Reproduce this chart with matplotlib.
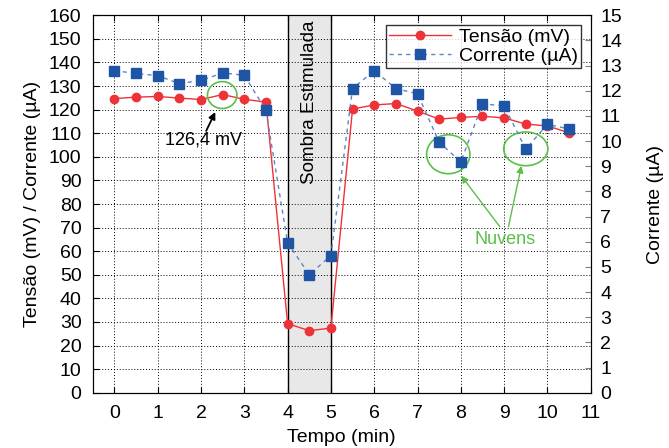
import numpy as np
import matplotlib.pyplot as plt
from matplotlib.patches import Ellipse

plt.rcParams['font.family'] = ['Liberation Sans', 'DejaVu Sans']

# time (min)
tempo = [0, 0.5, 1, 1.5, 2, 2.5, 3, 3.5, 4, 4.5, 5, 5.5, 6, 6.5, 7, 7.5,
         8, 8.5, 9, 9.5, 10, 10.5]
# voltage (mV)
tensao = [124.7, 125.3, 125.6, 124.9, 124.3, 126.4, 124.4, 123.2, 29.3, 26.3,
          27.4, 120.3, 122.0, 122.6, 119.4, 116.0, 116.7, 117.2, 116.5, 113.9,
          113.1, 110.2]
# current (uA)
corrente = [12.80, 12.69, 12.60, 12.29, 12.41, 12.71, 12.62, 11.22, 5.96, 4.69,
            5.45, 12.09, 12.80, 12.09, 11.88, 9.96, 9.17, 11.48, 11.40, 9.68,
            10.67, 10.48]

fig = plt.figure(figsize=(6.69, 4.48), dpi=100)
ax = fig.add_axes([0.1386, 0.1234, 0.7444, 0.8424])
ax2 = ax.twinx()

# shaded region
ax.axvspan(4, 5, color='#e8e8e8', zorder=0)
ax.axvline(4, color='black', lw=1, zorder=1)
ax.axvline(5, color='black', lw=1, zorder=1)
ax.text(4.5, 123, 'Sombra Estimulada', rotation=90, ha='center', va='center',
        fontsize=13.5)

l1, = ax.plot(tempo, tensao, color='#ee3338', lw=1, marker='o', ms=6,
              label='Tensão (mV)', zorder=4)
l2, = ax2.plot(tempo, corrente, color='#5a86c8', lw=1, ls=(0, (3, 3)),
               marker='s', ms=6.5, mfc='#1f55a5', mec='#1f55a5',
               label='Corrente (µA)', zorder=4)

ax.set_xlim(-0.5, 11)
ax.set_ylim(0, 160)
ax2.set_ylim(0, 15)
ax.set_xticks(range(0, 12))
ax.set_yticks(range(0, 161, 10))
ax2.set_yticks(range(0, 16))
ax.grid(True, color='black', ls=(0, (1, 2)), lw=0.7)
ax.set_axisbelow(True)

ax.tick_params(direction='in', labelsize=14, length=4, top=True)
ax.tick_params(axis='x', pad=9)
ax.tick_params(axis='y', pad=8)
ax2.tick_params(direction='in', labelsize=14, length=4, color='grey', pad=7)
ax.set_xlabel('Tempo (min)', fontsize=14, labelpad=5)
ax.set_ylabel('Tensão (mV) / Corrente (µA)', fontsize=14, labelpad=6)
ax2.set_ylabel('Corrente (µA)', fontsize=14, labelpad=18)

ax2.set_zorder(ax.get_zorder() + 1)
ax.patch.set_visible(True)
ax2.patch.set_visible(False)

leg = ax2.legend([l1, l2], ['Tensão (mV)', 'Corrente (µA)'], loc='upper right',
                 fontsize=14, fancybox=False, edgecolor='black',
                 borderaxespad=0.5, handlelength=3.2, borderpad=0.15,
                 labelspacing=0.1, handletextpad=0.4)
leg.get_frame().set_linewidth(1)

# annotations
green = '#5cbf4a'
ax.add_patch(Ellipse((2.49, 126.2), 0.68, 11.4, fill=False, ec=green, lw=1.2,
                     zorder=5))
ax.text(2.05, 107, '126,4 mV', ha='center', va='center', fontsize=13)
ax.annotate('', xy=(2.33, 119), xytext=(2.12, 111),
            arrowprops=dict(arrowstyle='-|>', color='black', lw=1.3,
                            shrinkA=0, shrinkB=0))
ax.add_patch(Ellipse((7.71, 101.1), 1.0, 16.5, fill=False, ec=green, lw=1.2,
                     zorder=5))
ax.add_patch(Ellipse((9.5, 103.4), 1.02, 14.3, fill=False, ec=green, lw=1.2,
                     zorder=5))
ax.text(9.03, 65, 'Nuvens', color=green, fontsize=13, ha='center',
        va='center')
ax.annotate('', xy=(8.01, 92), xytext=(8.9, 70.4),
            arrowprops=dict(arrowstyle='-|>', color=green, lw=1,
                            shrinkA=0, shrinkB=0))
ax.annotate('', xy=(9.4, 96.2), xytext=(9.1, 70.4),
            arrowprops=dict(arrowstyle='-|>', color=green, lw=1,
                            shrinkA=0, shrinkB=0))

fig.savefig('out.png', dpi=100)
